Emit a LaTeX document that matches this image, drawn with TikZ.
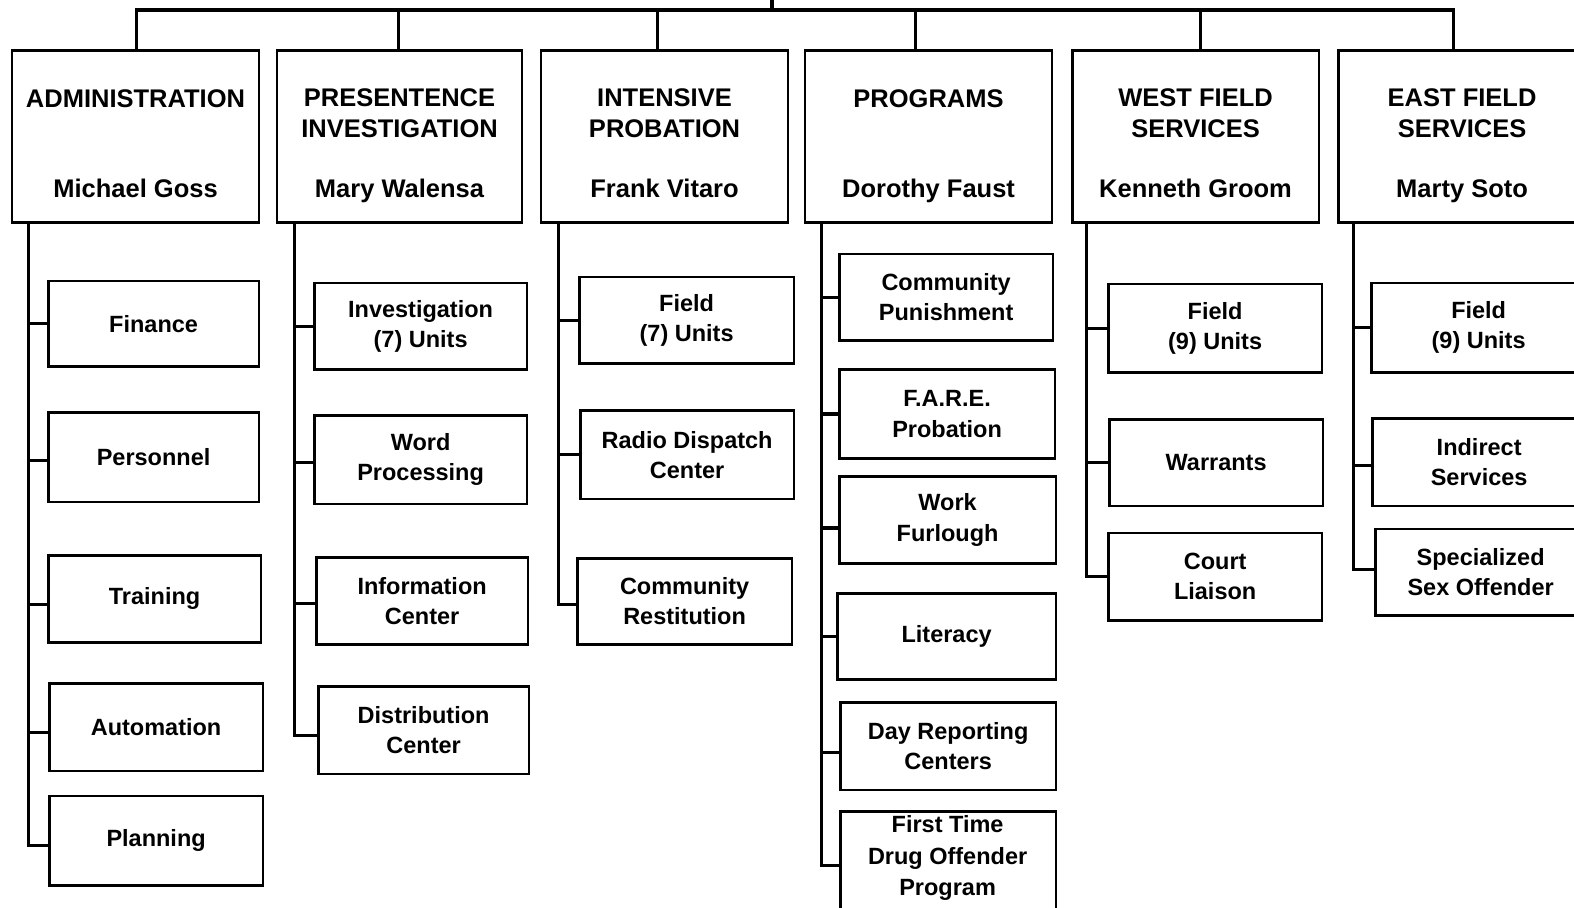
\documentclass[tikz,border=0pt]{standalone}
\usepackage{fontspec}
\setmainfont{Liberation Sans}
\tikzset{
  conn/.style={line width=3.2pt, line join=miter},
  headbox/.style={draw, line width=2.8pt, inner sep=0pt},
  subbox/.style={draw, line width=2.8pt, align=center, inner sep=0pt,
    font=\bfseries\fontsize{23.4}{30}\selectfont},
  subtxt/.style={align=center, inner sep=0pt,
    font=\bfseries\fontsize{23.4}{31.5}\selectfont},
  headtxt/.style={align=center, inner sep=0pt,
    font=\bfseries\fontsize{25.4}{30.5}\selectfont},
}
\newcommand\SubBox[6]{\node[subbox, minimum width={(#4-#2)*1pt}, minimum height={(#5-#3)*1pt}] (#1) at ({(#2+#4)/2},{(#3+#5)/2}) {#6};}
\newcommand\HeadBox[6]{%
  \node[headbox, minimum width={(#3-#2)*1pt}, minimum height=172pt] (#1) at ({(#2+#3)/2},136) {};
  \node[headtxt] (#1t) at ({(#2+#3)/2},#6) {#4};
  \node[headtxt, anchor=base] (#1n) at ({(#2+#3)/2},197) {#5};}
\begin{document}
\begin{tikzpicture}[x=1pt,y=-1pt]
\useasboundingbox (0,0) rectangle (1568,904);
\clip (0,0) rectangle (1568,904);
\fill[white] (0,0) rectangle (1568,904);

% heads
\HeadBox{adm}{12}{258}{ADMINISTRATION}{Michael Goss}{98}
\HeadBox{pre}{276}{520}{PRESENTENCE\\INVESTIGATION}{Mary Walensa}{113}
\HeadBox{int}{539}{785}{INTENSIVE\\PROBATION}{Frank Vitaro}{113}
\HeadBox{pro}{802}{1048}{PROGRAMS}{Dorothy Faust}{98}
\HeadBox{wes}{1068}{1314}{WEST FIELD\\SERVICES}{Kenneth Groom}{113}
\HeadBox{eas}{1333}{1580}{EAST FIELD\\SERVICES}{Marty Soto}{113}

% top bar
\coordinate (top) at (769,-5);
\coordinate (bar) at (769,10);
\draw[conn] (bar) -- (top);
\draw[conn] ([xshift=1pt]adm.north) |- (bar);
\draw[conn] ([xshift=-1pt]pre.north) |- (bar);
\draw[conn] ([xshift=-7pt]int.north) |- (bar);
\draw[conn] ([xshift=-13pt]pro.north) |- (bar);
\draw[conn] ([xshift=5pt]wes.north) |- (bar);
\draw[conn] ([xshift=-8.5pt]eas.north) |- (bar);

% column 1
\SubBox{fin}{48}{280}{258}{365}{Finance}
\SubBox{per}{48}{411}{258}{500}{Personnel}
\SubBox{tra}{48}{553}{260}{640}{Training}
\SubBox{aut}{49}{681}{262}{768}{Automation}
\SubBox{pla}{49}{793}{262}{882}{Planning}
\draw[conn] ([xshift=18pt]adm.south west) |- (fin.west);
\draw[conn] ([xshift=18pt]adm.south west) |- ([yshift=-3pt]per.west);
\draw[conn] ([xshift=18pt]adm.south west) |- ([yshift=-6pt]tra.west);
\draw[conn] ([xshift=18pt]adm.south west) |- ([yshift=-5pt]aut.west);
\draw[conn] ([xshift=18pt]adm.south west) |- ([yshift=-5pt]pla.west);

% column 2
\SubBox{inv}{313}{282}{525}{368}{Investigation\\(7) Units}
\SubBox{wor}{313}{414}{525}{502}{Word\\Processing}
\SubBox{inf}{315}{555}{526}{642}{Information\\Center}
\SubBox{dis}{317}{684}{527}{771}{Distribution\\Center}
\draw[conn] ([xshift=19pt]pre.south west) |- (inv.west);
\draw[conn] ([xshift=19pt]pre.south west) |- ([yshift=-3pt]wor.west);
\draw[conn] ([xshift=19pt]pre.south west) |- ([yshift=-3pt]inf.west);
\draw[conn] ([xshift=19pt]pre.south west) |- ([yshift=-5pt]dis.west);

% column 3
\SubBox{fi7}{577}{276}{791}{362}{Field\\(7) Units}
\SubBox{rad}{578}{409}{791}{497}{Radio Dispatch\\Center}
\SubBox{cre}{575}{556}{789}{642}{Community\\Restitution}
\draw[conn] ([xshift=19pt]int.south west) |- (fi7.west);
\draw[conn] ([xshift=19pt]int.south west) |- (rad.west);
\draw[conn] ([xshift=19pt]int.south west) |- ([yshift=-3pt]cre.west);

% column 4
\SubBox{cpu}{836}{253}{1049}{339}{Community\\Punishment}
\SubBox{far}{836}{368}{1051}{457}{F.A.R.E.\\Probation}
\SubBox{wfu}{836}{475}{1052}{561}{Work\\Furlough}
\SubBox{lit}{834}{591}{1052}{677}{Literacy}
\SubBox{day}{837}{700}{1052}{787}{Day Reporting\\Centers}
\SubBox{ftd}{837}{808}{1052}{916}{}
\node[subtxt] (ftdt) at (944,855) {First Time\\Drug Offender\\Program};
\draw[conn] ([xshift=18pt]pro.south west) |- (cpu.west);
\draw[conn] ([xshift=18pt]pro.south west) |- (far.west);
\draw[conn] ([xshift=18pt]pro.south west) |- ([yshift=-8pt]wfu.west);
\draw[conn] ([xshift=18pt]pro.south west) |- (lit.west);
\draw[conn] ([xshift=18pt]pro.south west) |- ([yshift=-6pt]day.west);
\draw[conn] ([xshift=18pt]pro.south west) |- (ftd.west);

% column 5
\SubBox{fw9}{1104}{283}{1317}{371}{Field\\(9) Units}
\SubBox{war}{1105}{418}{1318}{504}{Warrants}
\SubBox{cou}{1104}{531}{1317}{618}{Court\\Liaison}
\draw[conn] ([xshift=16pt]wes.south west) |- (fw9.west);
\draw[conn] ([xshift=16pt]wes.south west) |- (war.west);
\draw[conn] ([xshift=16pt]wes.south west) |- (cou.west);

% column 6
\SubBox{fe9}{1366}{282}{1580}{371}{Field\\(9) Units}
\SubBox{ind}{1367}{417}{1580}{504}{Indirect\\Services}
\SubBox{sso}{1370}{527}{1580}{613}{Specialized\\Sex Offender}
\draw[conn] ([xshift=17pt]eas.south west) |- (fe9.west);
\draw[conn] ([xshift=17pt]eas.south west) |- ([yshift=-3pt]ind.west);
\draw[conn] ([xshift=17pt]eas.south west) |- ([yshift=3pt]sso.west);
\end{tikzpicture}
\end{document}
